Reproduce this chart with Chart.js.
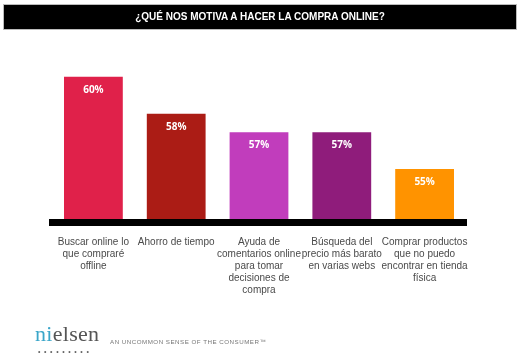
<!DOCTYPE html>
<html>
<head>
<meta charset="utf-8">
<script src="https://cdn.jsdelivr.net/npm/chart.js@4.4.1/dist/chart.umd.min.js"></script>
<style>
  html, body { margin:0; padding:0; background:#fff; }
  #wrap { position:relative; width:520px; height:357px; overflow:hidden; }
  #title { position:absolute; left:4px; top:5px; width:512px; height:24px; background:#000;
    color:#fff; font:bold 10px "Liberation Sans", Arial, sans-serif; text-align:center; line-height:24px;
    box-shadow: 0 0 0 1px #bbb; }
  canvas { position:absolute; left:0; top:0; }
  #logo { position:absolute; left:35px; top:321px; font:22px "Liberation Serif", serif; color:#555; letter-spacing:0.3px; }
  #logo span { color:#3aa6c9; }
  #dots { position:absolute; left:38px; top:348px; font:7px sans-serif; color:#666; letter-spacing:3.6px; }
  #tag { position:absolute; left:110px; top:338px; font:6.2px "Liberation Sans", Arial, sans-serif; color:#777; letter-spacing:0.5px; }
</style>
</head>
<body>
<div id="wrap">
  <canvas id="c" width="520" height="357"></canvas>
  <div id="title">¿QUÉ NOS MOTIVA A HACER LA COMPRA ONLINE?</div>
  <div id="logo"><span>ni</span>elsen</div>
  <div id="dots">•••••••••</div>
  <div id="tag">AN UNCOMMON SENSE OF THE CONSUMER™</div>
</div>
<script>
const categories = [
  ["Buscar online lo", "que compraré", "offline"],
  ["Ahorro de tiempo"],
  ["Ayuda de", "comentarios online", "para tomar", "decisiones de", "compra"],
  ["Búsqueda del", "precio más barato", "en varias webs"],
  ["Comprar productos", "que no puedo", "encontrar en tienda", "física"]
];
const values = [60, 58, 57, 57, 55];
const valueLabels = ["60%", "58%", "57%", "57%", "55%"];
const barColors = ["#e0214a", "#ab1c15", "#c13dbc", "#8f1c7b", "#ff9300"];

const valueLabelPlugin = {
  id: 'valueLabels',
  afterDatasetsDraw(chart) {
    const ctx = chart.ctx;
    const meta = chart.getDatasetMeta(0);
    ctx.save();
    ctx.fillStyle = '#fff';
    ctx.font = 'bold 10px "Open Sans", sans-serif';
    ctx.textAlign = 'center';
    ctx.textBaseline = 'middle';
    meta.data.forEach((bar, i) => {
      ctx.fillText(valueLabels[i], bar.x, bar.y + 13);
    });
    ctx.restore();
  }
};

new Chart(document.getElementById('c'), {
  type: 'bar',
  data: {
    labels: categories,
    datasets: [{
      data: values,
      backgroundColor: barColors,
      borderWidth: 0,
      barPercentage: 0.71,
      categoryPercentage: 1.0
    }]
  },
  options: {
    responsive: false,
    animation: false,
    devicePixelRatio: 1,
    layout: { padding: { left: 52, right: 54, top: 40, bottom: 44.5 } },
    plugins: { legend: { display: false }, tooltip: { enabled: false }, title: { display: false } },
    scales: {
      x: {
        grid: { display: false },
        border: { display: true, color: '#000', width: 7, z: 1 },
        afterFit: (s) => { s.height = 90; },
        ticks: {
          color: '#4a4a4a',
          font: { family: '"Liberation Sans", Arial, sans-serif', size: 10, lineHeight: 1.2 },
          padding: 6,
          maxRotation: 0,
          minRotation: 0,
          autoSkip: false
        }
      },
      y: {
        display: false,
        min: 52.1,
        max: 62
      }
    }
  },
  plugins: [valueLabelPlugin]
});
</script>
</body>
</html>
